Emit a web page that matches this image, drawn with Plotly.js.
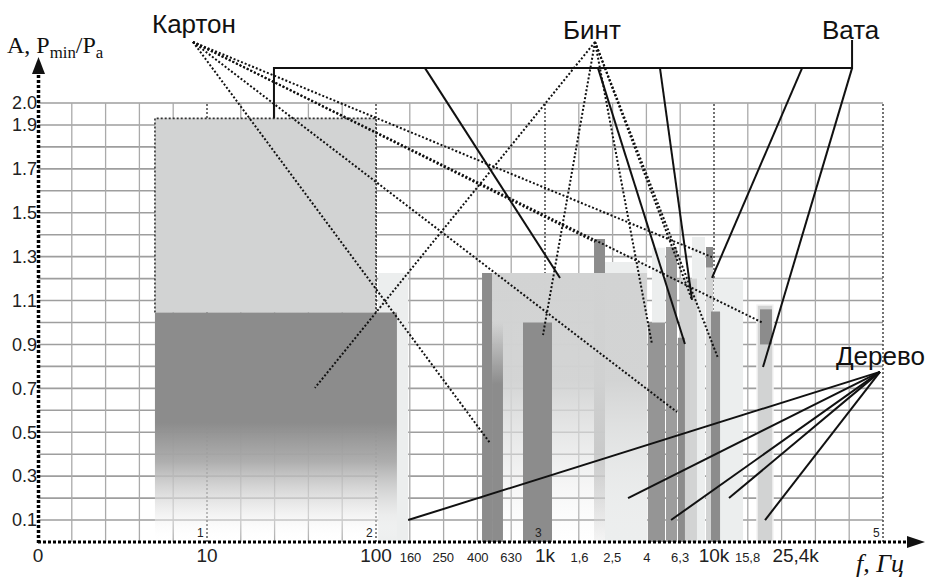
<!DOCTYPE html>
<html><head><meta charset="utf-8">
<script src="https://cdn.plot.ly/plotly-3.0.1.min.js"></script>
<style>html,body{margin:0;padding:0;background:#fff}#chart{width:940px;height:578px}</style>
</head><body><div id="chart"></div>
<script>
// ================= DATA =================
// x axis: frequency, Hz (log scale); y axis: A, Pmin/Pa
const xTickVals = [1, 10, 100, 160, 250, 400, 630, 1000, 1600, 2500, 4000, 6300, 10000, 15800, 25400];
const xTickText = ['0', '10', '100', '160', '250', '400', '630', '1k', '1,6', '2,5', '4', '6,3', '10k', '15,8', '25,4k'];
const xTickBig  = [1, 1, 1, 0, 0, 0, 0, 1, 0, 0, 0, 0, 1, 0, 1];
const yTickVals = [0.1, 0.3, 0.5, 0.7, 0.9, 1.1, 1.3, 1.5, 1.7, 1.9, 2.0];
const yTickText = ['0.1', '0.3', '0.5', '0.7', '0.9', '1.1', '1.3', '1.5', '1.7', '1.9', '2.0'];
const decadeVals = [10, 100, 1000, 10000, 100000];
const decadeText = ['1', '2', '3', '4', '5'];

// frequency bands (rectangles): low / high frequency, low / high value
const bandF0 = [103, 4.92, 4.92, 1950, 2265, 486, 424, 486, 741, 4295, 4065, 5200, 7410, 6290, 6120, 8970, 8970, 9970, 9600, 17960, 18720];
const bandF1 = [155, 100, 133, 2265, 4015, 4015, 486, 564, 1100, 5130, 5130, 6040, 8850, 7930, 6730, 9870, 9870, 14860, 10860, 22350, 22030];
const bandA0 = [0, 1.045, 0, 0, 0, 0, 0, 0, 0, 0, 0, 0, 0, 0, 0, 0, 1.25, 0, 0, 0, 0.9];
const bandA1 = [1.225, 1.93, 1.045, 1.38, 1.276, 1.225, 1.225, 1.0, 1.0, 1.34, 1.0, 1.344, 1.39, 1.2, 0.93, 1.25, 1.344, 1.2, 1.05, 1.08, 1.06];

// material labels and their leader targets
const materials = ['Картон', 'Бинт', 'Вата', 'Дерево'];
const kartonOrigin = [8.26, 2.278];
const kartonTargetF = [473, 6040, 1977, 9730, 19500];
const kartonTargetA = [0.451, 0.592, 1.367, 1.298, 0.998];
const bintOrigin = [1977, 2.278];
const bintTargetF = [43.5, 973, 4295, 7410, 10560];
const bintTargetA = [0.702, 0.943, 0.902, 1.103, 0.838];
const vataBracket = [24.9, 65600, 2.159, 2.287];   // left f, right f, bracket level, label level
const vataStartF  = [195, 2060, 4790, 33200, 65600];
const vataTargetF = [1227, 6730, 7410, 9730, 19500];
const vataTargetA = [1.203, 0.902, 1.103, 1.203, 0.797];
const derevoOrigin = [95950, 0.775];
const derevoTargetF = [155, 3100, 5570, 12270, 20050];
const derevoTargetA = [0.1, 0.2, 0.1, 0.2, 0.1];

// ================= DRAWING =================
const FONT = 'Liberation Sans, Arial, sans-serif';
const SERIF = 'Liberation Serif, Times New Roman, serif';
const DARK = '#8c8c8c', LIGHT = '#d2d3d3', PALE = '#eceeee', MID = '#9d9d9d';
const bandStyle = ['pale', 'lightBorder', 'darkFade', 'darkFadeLow', 'pale', 'lightFade', 'dark', 'darkFadeTop', 'dark',
  'pale', 'darkish', 'mid', 'pale', 'light', 'dark', 'light', 'dark', 'pale', 'dark', 'lightOutline', 'dark'];

const traces = [];
// grid
const gx = [], gy = [];
for (let k = 1; k < 25; k++) { if (k % 5) { const f = Math.pow(10, k / 5); gx.push(f, f, null); gy.push(0, 2.0, null); } }
const hx = [], hy = [];
for (let k = 1; k <= 20; k++) { hx.push(1, 100000, null); hy.push(k / 10, k / 10, null); }
traces.push({x: hx, y: hy, mode: 'lines', line: {color: '#9e9e9e', width: 1.6}, hoverinfo: 'skip'});
traces.push({x: gx, y: gy, mode: 'lines', line: {color: '#aaaaaa', width: 1.3}, hoverinfo: 'skip'});
const dx = [], dy = [];
decadeVals.forEach(f => { dx.push(f, f, null); dy.push(0, 2.0, null); });
traces.push({x: dx, y: dy, mode: 'lines', line: {color: '#444', width: 1.5, dash: '2px,2px'}, hoverinfo: 'skip'});

function rect(i) {
  const x = [bandF0[i], bandF1[i], bandF1[i], bandF0[i], bandF0[i]];
  const y = [bandA0[i], bandA0[i], bandA1[i], bandA1[i], bandA0[i]];
  const t = {x, y, mode: 'lines', fill: 'toself', line: {width: 0}, hoverinfo: 'skip'};
  const s = bandStyle[i];
  const g = (cs) => ({type: 'vertical', colorscale: cs, start: bandA0[i], stop: bandA1[i]});
  if (s === 'pale') t.fillcolor = PALE;
  else if (s === 'light') t.fillcolor = LIGHT;
  else if (s === 'dark') t.fillcolor = DARK;
  else if (s === 'darkish') t.fillcolor = '#959595';
  else if (s === 'mid') t.fillcolor = MID;
  else if (s === 'lightBorder') t.fillcolor = LIGHT;
  else if (s === 'lightOutline') { t.fillcolor = LIGHT; t.line = {width: 1.5, color: '#f4f4f4'}; }
  else if (s === 'darkFade') t.fillgradient = g([[0, 'rgba(255,255,255,0)'], [0.12, 'rgba(235,235,235,0.6)'], [0.35, 'rgba(170,170,170,0.95)'], [0.52, DARK], [1, DARK]]);
  else if (s === 'darkFadeLow') t.fillgradient = g([[0, 'rgba(220,220,220,0.3)'], [0.3, 'rgba(160,160,160,0.9)'], [0.6, DARK], [1, DARK]]);
  else if (s === 'lightFade') t.fillgradient = g([[0, 'rgba(240,240,240,0)'], [0.3, 'rgba(225,226,226,0.55)'], [0.6, 'rgba(210,211,211,0.97)'], [1, LIGHT]]);
  else if (s === 'darkFadeTop') t.fillgradient = g([[0, DARK], [0.72, DARK], [1, 'rgba(140,140,140,0)']]);
  traces.push(t);
  if (s === 'lightBorder') {
    traces.push({x: [bandF0[i], bandF0[i], bandF1[i], bandF1[i]], y: [bandA0[i], bandA1[i], bandA1[i], bandA0[i]],
      mode: 'lines', line: {color: '#333', width: 1.6, dash: '2px,2px'}, hoverinfo: 'skip'});
  }
}
for (let i = 0; i < bandF0.length; i++) rect(i);

// leaders
function fan(origin, tf, ta) {
  const x = [], y = [];
  tf.forEach((f, i) => { x.push(origin[0], f, null); y.push(origin[1], ta[i], null); });
  return {x, y};
}
const kf = fan(kartonOrigin, kartonTargetF, kartonTargetA);
const bf = fan(bintOrigin, bintTargetF, bintTargetA);
traces.push({x: kf.x.concat(bf.x), y: kf.y.concat(bf.y), mode: 'lines', line: {color: '#111', width: 2, dash: '2px,2px'}, hoverinfo: 'skip'});
const sx = [vataBracket[0], vataBracket[0], vataBracket[1], vataBracket[1], null];
const sy = [bandA1[1], vataBracket[2], vataBracket[2], vataBracket[3], null];
vataStartF.forEach((f, i) => { sx.push(f, vataTargetF[i], null); sy.push(vataBracket[2], vataTargetA[i], null); });
const df = fan(derevoOrigin, derevoTargetF, derevoTargetA);
traces.push({x: sx.concat(df.x), y: sy.concat(df.y), mode: 'lines', line: {color: '#111', width: 2}, hoverinfo: 'skip'});

// ---- pixel helpers for decorations (paper coords) ----
const L = 38, W = 902, H = 542;
const P = (px, py) => ((px - L) / W).toFixed(5) + ',' + ((542 - py) / H).toFixed(5);
const px2 = (px) => (px - L) / W, py2 = (py) => (542 - py) / H;

const shapes = [
  {type: 'line', xref: 'paper', yref: 'paper', x0: px2(38.5), x1: px2(38.5), y0: py2(543), y1: py2(72), line: {color: '#000', width: 3.5, dash: '3px,2px'}, layer: 'above'},
  {type: 'line', xref: 'paper', yref: 'paper', x0: px2(38), x1: px2(908), y0: py2(542), y1: py2(542), line: {color: '#000', width: 3.2, dash: '3px,2px'}, layer: 'above'},
  {type: 'path', xref: 'paper', yref: 'paper', path: `M${P(32, 74)}L${P(38.5, 57)}L${P(45, 74)}Z`, fillcolor: '#111', line: {width: 0}},
  {type: 'path', xref: 'paper', yref: 'paper', path: `M${P(907, 536)}L${P(925, 542)}L${P(907, 548)}Z`, fillcolor: '#111', line: {width: 0}},
];

const ann = (text, px, py, size, extra) => Object.assign({text, xref: 'paper', yref: 'paper', x: px2(px), y: py2(py),
  showarrow: false, xanchor: 'center', yanchor: 'middle', font: {family: FONT, size, color: '#111'}}, extra || {});
const annotations = [
  ann(materials[0], 194, 24, 26),
  ann(materials[1], 592, 30, 26),
  ann(materials[2], 851, 30, 26),
  ann(materials[3], 880, 356, 26),
  ann('A, P<sub>min</sub>/P<sub>a</sub>', 55, 47, 24, {font: {family: SERIF, size: 24, color: '#111'}}),
  ann('<i>f, Гц</i>', 880, 564, 26, {font: {family: SERIF, size: 26, color: '#111'}}),
];
decadeText.forEach((t, i) => {
  if (i === 3) return;
  const lx = Math.log10(decadeVals[i]);
  annotations.push(ann(t, 38 + lx * 169 - 7, 533, 12, {font: {family: FONT, size: 12, color: '#222'}}));
});

const tickText = xTickText.map((t, i) => {
  let s = t;
  if (i === xTickText.length - 1) s = '\u00a0\u00a0\u00a0\u00a0\u00a0' + t;
  return xTickBig[i] ? s : '<span style="font-size:13px">' + s + '</span>';
});

const layout = {
  width: 940, height: 578,
  margin: {l: 38, r: 0, t: 0, b: 36},
  paper_bgcolor: '#fff', plot_bgcolor: '#fff',
  showlegend: false,
  xaxis: {type: 'log', range: [0, 902 / 169], tickmode: 'array', tickvals: xTickVals, ticktext: tickText, tickangle: 0,
    showgrid: false, zeroline: false, showline: false, ticks: '', tickfont: {family: FONT, size: 19, color: '#222'}, fixedrange: true},
  yaxis: {range: [0, 542 / 219.5], tickmode: 'array', tickvals: yTickVals, ticktext: yTickText,
    showgrid: false, zeroline: false, showline: false, ticks: '', tickfont: {family: FONT, size: 18, color: '#222'}, fixedrange: true},
  shapes, annotations,
};
Plotly.newPlot('chart', traces, layout, {staticPlot: true, displayModeBar: false});
</script></body></html>
